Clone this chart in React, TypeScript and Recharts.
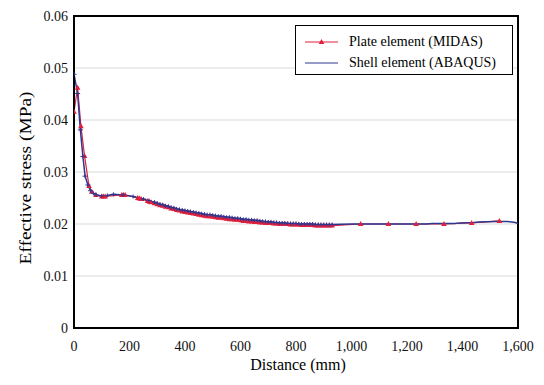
import { LineChart, Line, XAxis, YAxis, CartesianGrid, ReferenceArea } from 'recharts'

// Plate element (MIDAS)
const plateDistance = [
  0, 13, 25, 38, 54, 64, 79, 100, 106, 112, 172, 178, 184, 230, 236, 242, 265, 272, 278,
  290, 300, 310, 320, 330, 340, 350, 360, 370, 380, 390, 400, 410, 420, 430, 440, 450,
  460, 470, 480, 490, 500, 510, 520, 530, 540, 550, 560, 570, 580, 590, 600, 610, 620,
  630, 640, 650, 660, 670, 680, 690, 700, 710, 720, 730, 740, 750, 760, 770, 780, 790,
  800, 810, 820, 830, 840, 850, 860, 870, 880, 890, 900, 910, 920, 930,
  1033, 1133, 1233, 1333, 1433, 1533,
]
const plateStress = [
  0.0416, 0.0462, 0.0388, 0.0331, 0.0273, 0.0262, 0.0256, 0.0253, 0.0253, 0.0253, 0.0256,
  0.0256, 0.0256, 0.025, 0.0249, 0.0248, 0.0244, 0.0243, 0.0242,
  0.024, 0.0238, 0.0236, 0.0235, 0.0233, 0.0232, 0.023, 0.0229, 0.0227, 0.0226, 0.0224,
  0.0223, 0.0222, 0.0221, 0.022, 0.0219, 0.0218, 0.0217, 0.0216, 0.0215, 0.0215, 0.0214,
  0.0213, 0.0212, 0.0212, 0.0211, 0.021, 0.0209, 0.0209, 0.0208, 0.0208, 0.0207, 0.0206,
  0.0206, 0.0205, 0.0205, 0.0204, 0.0204, 0.0203, 0.0203, 0.0202, 0.0202, 0.0202, 0.0201,
  0.0201, 0.02, 0.02, 0.02, 0.02, 0.0199, 0.0199, 0.0199, 0.0199, 0.0198, 0.0198, 0.0198,
  0.0198, 0.0198, 0.0197, 0.0197, 0.0197, 0.0197, 0.0197, 0.0197, 0.0197,
  0.02, 0.02, 0.02, 0.02, 0.0202, 0.0206,
]

// Shell element (ABAQUS)
const shellDistance = [
  0, 13, 23, 32, 40, 50, 60, 70, 80, 100, 120, 142, 177, 213, 250, 270,
  290, 300, 310, 320, 330, 340, 350, 360, 370, 380, 390, 400, 410, 420, 430, 440, 450,
  460, 470, 480, 490, 500, 510, 520, 530, 540, 550, 560, 570, 580, 590, 600, 610, 620,
  630, 640, 650, 660, 670, 680, 690, 700, 710, 720, 730, 740, 750, 760, 770, 780, 790,
  800, 810, 820, 830, 840, 850, 860, 870, 880, 890, 900, 910, 920, 930,
  1000, 1100, 1200, 1270, 1290, 1370, 1390, 1440, 1460, 1520, 1560, 1590, 1600,
]
const shellStress = [
  0.0488, 0.0451, 0.0381, 0.033, 0.0292, 0.0275, 0.0264, 0.0259, 0.0256, 0.0254, 0.0255,
  0.0257, 0.0256, 0.0253, 0.0248, 0.0245,
  0.0242, 0.024, 0.0238, 0.0237, 0.0235, 0.0234, 0.0232, 0.0231, 0.0229, 0.0228, 0.0227,
  0.0226, 0.0225, 0.0224, 0.0223, 0.0222, 0.0221, 0.022, 0.0219, 0.0218, 0.0218, 0.0217,
  0.0216, 0.0215, 0.0215, 0.0214, 0.0213, 0.0213, 0.0212, 0.0211, 0.0211, 0.021, 0.0209,
  0.0209, 0.0208, 0.0208, 0.0207, 0.0207, 0.0206, 0.0205, 0.0205, 0.0204, 0.0204, 0.0203,
  0.0203, 0.0202, 0.0202, 0.0202, 0.0201, 0.0201, 0.0201, 0.0201, 0.02, 0.02, 0.02, 0.02,
  0.02, 0.02, 0.0199, 0.0199, 0.0199, 0.0199, 0.0199, 0.0199, 0.0199,
  0.02, 0.02, 0.02, 0.02, 0.0201, 0.0201, 0.0202, 0.0203, 0.0204, 0.0205, 0.0205, 0.0203,
  0.0201,
]

const xTicks = [0, 200, 400, 600, 800, 1000, 1200, 1400, 1600]
const yTicks = [0, 0.01, 0.02, 0.03, 0.04, 0.05, 0.06]

const RED = '#e0203c'
const BLUE = '#2e3790'
const FONT = '"Liberation Serif", "Times New Roman", serif'

const plateData = plateDistance.map((d, i) => ({ distance: d, stress: plateStress[i] }))
const shellData = shellDistance.map((d, i) => ({ distance: d, stress: shellStress[i] }))

function TriangleDot(props: any) {
  const { cx, cy, index } = props
  if (cx == null || cy == null) return <g key={`t-${index}`} />
  return (
    <polygon
      key={`t-${index}`}
      points={`${cx},${cy - 3} ${cx - 2.8},${cy + 2} ${cx + 2.8},${cy + 2}`}
      fill={RED}
      stroke="none"
    />
  )
}

function PlusDot(props: any) {
  const { cx, cy, index, payload } = props
  if (cx == null || cy == null || payload.distance > 930) return <g key={`p-${index}`} />
  return (
    <path
      key={`p-${index}`}
      d={`M${cx - 2.5},${cy}H${cx + 2.5}M${cx},${cy - 2}V${cy + 2}`}
      stroke={BLUE}
      strokeWidth={1}
    />
  )
}

function LegendBox() {
  return (
    <div
      style={{
        position: 'absolute',
        left: 287,
        top: 17,
        width: 218,
        height: 50,
        boxSizing: 'border-box',
        border: '1.5px solid #000',
        background: '#fff',
        fontFamily: FONT,
        fontSize: 14,
        color: '#000',
      }}
    >
      <svg width={50} height={48} style={{ position: 'absolute', left: 0, top: 0 }}>
        <line x1={9} x2={42} y1={16} y2={16} stroke={RED} strokeWidth={1} />
        <polygon points="25.5,13 22.7,18 28.3,18" fill={RED} />
        <line x1={9} x2={42} y1={37} y2={37} stroke={BLUE} strokeWidth={1} />
      </svg>
      <div style={{ position: 'absolute', left: 53, top: 6, lineHeight: '20px', whiteSpace: 'nowrap' }}>
        Plate element (MIDAS)
      </div>
      <div style={{ position: 'absolute', left: 53, top: 27, lineHeight: '20px', whiteSpace: 'nowrap' }}>
        Shell element (ABAQUS)
      </div>
    </div>
  )
}

export default function App() {
  return (
    <div style={{ position: 'relative', width: 536, height: 377 }}>
      <LineChart
        width={536}
        height={377}
        margin={{ top: 8, right: 26, bottom: 27, left: 0 }}
        style={{ fontFamily: FONT }}
      >
        <CartesianGrid vertical={false} stroke="#d9d9d9" strokeWidth={1} />
        <XAxis
          type="number"
          dataKey="distance"
          domain={[0, 1600]}
          ticks={xTicks}
          allowDataOverflow
          tickLine={false}
          tickMargin={7}
          height={30}
          axisLine={{ stroke: '#000', strokeWidth: 2 }}
          tick={{ fill: '#111', fontSize: 14, fontFamily: FONT }}
          tickFormatter={(v: number) => v.toLocaleString('en-US')}
        />
        <YAxis
          type="number"
          domain={[0, 0.06]}
          ticks={yTicks}
          allowDataOverflow
          width={66}
          tickLine={false}
          tickMargin={0}
          axisLine={{ stroke: '#000', strokeWidth: 2 }}
          tick={{ fill: '#111', fontSize: 14, fontFamily: FONT }}
          tickFormatter={(v: number) => String(v)}
        />
        <ReferenceArea
          x1={0}
          x2={1600}
          y1={0}
          y2={0.06}
          fill="none"
          fillOpacity={0}
          stroke="#000"
          strokeWidth={2}
          ifOverflow="visible"
        />
        <Line
          data={plateData}
          dataKey="stress"
          name="Plate element (MIDAS)"
          type="linear"
          stroke={RED}
          strokeWidth={1.2}
          dot={TriangleDot}
          activeDot={false}
          isAnimationActive={false}
        />
        <Line
          data={shellData}
          dataKey="stress"
          name="Shell element (ABAQUS)"
          type="linear"
          stroke={BLUE}
          strokeWidth={1.5}
          dot={PlusDot}
          activeDot={false}
          isAnimationActive={false}
        />
        <text
          x={290}
          y={362}
          textAnchor="middle"
          fontSize={16}
          fontFamily={FONT}
          fill="#000"
        >
          Distance (mm)
        </text>
        <text
          x={17}
          y={170}
          textAnchor="middle"
          dominantBaseline="central"
          fontSize={16}
          fontFamily={FONT}
          fill="#000"
          textLength={173}
          lengthAdjust="spacingAndGlyphs"
          transform="rotate(-90 17 170)"
        >
          Effective stress (MPa)
        </text>
      </LineChart>
      <LegendBox />
    </div>
  )
}
